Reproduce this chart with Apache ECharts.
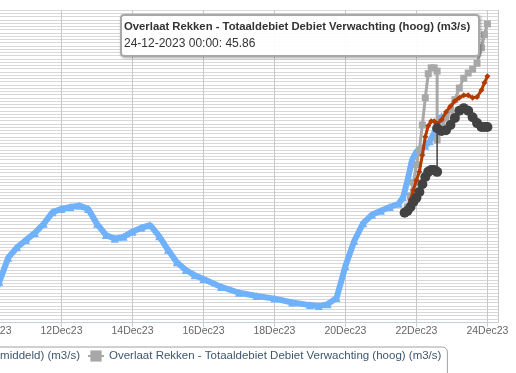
<!DOCTYPE html>
<html><head><meta charset="utf-8">
<script src="https://cdn.jsdelivr.net/npm/echarts@6/dist/echarts.min.js"></script>
<style>html,body{margin:0;padding:0;background:#fff;overflow:hidden}#c{width:516px;height:373px}</style>
</head><body><div id="c"></div>
<script>
// ---- data ----
const axisStart = '2023-12-10 00:00';
const axisEnd = '2023-12-24 07:30';
const tickDays = 2;
const yMin = 0, yMax = 48, yStep = 0.5;
const monthNames = ['Jan','Feb','Mar','Apr','May','Jun','Jul','Aug','Sep','Oct','Nov','Dec'];

const nameObserved = 'Overlaat Rekken - Totaaldebiet Debiet (m3/s)';
const nameHigh = 'Overlaat Rekken - Totaaldebiet Debiet Verwachting (hoog) (m3/s)';
const nameMid = 'Overlaat Rekken - Totaaldebiet Debiet Verwachting (middeld) (m3/s)';
const nameLow = 'Overlaat Rekken - Totaaldebiet Debiet Verwachting (laag) (m3/s)';

const observedTimes = ['2023-12-10 00:00','2023-12-10 06:00','2023-12-10 12:00','2023-12-10 18:00',
'2023-12-11 00:00','2023-12-11 06:00','2023-12-11 12:00','2023-12-11 18:00',
'2023-12-12 00:00','2023-12-12 06:00','2023-12-12 12:00','2023-12-12 18:00',
'2023-12-13 00:00','2023-12-13 06:00','2023-12-13 12:00','2023-12-13 18:00',
'2023-12-14 00:00','2023-12-14 06:00','2023-12-14 12:00','2023-12-14 18:00',
'2023-12-15 00:00','2023-12-15 06:00','2023-12-15 12:00','2023-12-15 18:00',
'2023-12-16 00:00','2023-12-16 12:00','2023-12-17 00:00','2023-12-17 12:00',
'2023-12-18 00:00','2023-12-18 12:00','2023-12-19 00:00','2023-12-19 06:00',
'2023-12-19 12:00','2023-12-19 18:00','2023-12-20 00:00','2023-12-20 06:00',
'2023-12-20 12:00','2023-12-20 18:00','2023-12-21 00:00','2023-12-21 06:00',
'2023-12-21 12:00','2023-12-21 15:00','2023-12-21 18:00','2023-12-21 21:00',
'2023-12-22 00:00','2023-12-22 03:00','2023-12-22 06:00','2023-12-22 09:00',
'2023-12-22 12:00','2023-12-22 15:00','2023-12-22 17:00'];
const observedValues = [3.0,6.2,9.9,11.5,
12.6,13.7,15.1,16.9,
17.4,17.7,17.9,17.4,
15.1,13.4,12.8,13.1,
13.9,14.5,14.9,13.2,
11.1,9.2,8.0,7.2,
6.6,5.4,4.5,4.0,
3.6,3.0,2.6,2.45,
2.75,3.7,8.6,12.5,
15.2,16.5,17.1,17.7,
18.2,19.2,21.8,24.9,
26.2,26.6,27.1,27.8,
29.1,30.8,31.7];

const forecastTimes = ['2023-12-21 16:00','2023-12-21 18:00','2023-12-21 20:00','2023-12-21 22:00',
'2023-12-22 00:00','2023-12-22 02:00','2023-12-22 04:00','2023-12-22 06:00',
'2023-12-22 08:00','2023-12-22 10:00','2023-12-22 12:00','2023-12-22 14:00',
'2023-12-22 14:00','2023-12-22 17:00','2023-12-22 20:00','2023-12-22 23:00',
'2023-12-23 02:00','2023-12-23 05:00','2023-12-23 08:00','2023-12-23 11:00',
'2023-12-23 14:00','2023-12-23 17:00','2023-12-23 20:00','2023-12-23 22:00',
'2023-12-24 00:00'];
const highValues = [16.9,17.7,19.4,21.5,24.2,26.5,30.3,34.5,38.2,39.1,39.1,38.6,
28.0,30.0,31.4,32.6,34.2,36.0,37.5,38.3,38.9,39.8,42.2,44.2,45.86];
const midValues = [16.8,17.5,18.8,20.3,21.8,23.1,25.7,28.5,30.2,30.9,30.9,30.5,
30.2,31.1,32.3,33.2,34.0,34.5,34.9,34.9,34.5,34.6,35.7,36.8,37.8];
const lowValues = [16.8,17.1,17.7,18.5,19.1,20.0,21.2,22.3,23.1,23.4,23.4,23.1,
29.8,29.4,29.5,30.3,31.4,32.5,32.9,32.5,31.5,30.6,30.0,30.0,30.0];

// ---- helpers ----
function ts(s){const [d,h]=s.split(' ');const [Y,M,D]=d.split('-').map(Number);const [hh,mm]=h.split(':').map(Number);return Date.UTC(Y,M-1,D,hh,mm);}
function pairs(times, vals){return times.map((t,i)=>[ts(t), vals[i]]);}
function pad(n){return (n<10?'0':'')+n;}
function fmtTip(ms){const d=new Date(ms);return pad(d.getUTCDate())+'-'+pad(d.getUTCMonth()+1)+'-'+d.getUTCFullYear()+' '+pad(d.getUTCHours())+':'+pad(d.getUTCMinutes());}
function fmtAxis(ms){const d=new Date(ms);return d.getUTCDate()+monthNames[d.getUTCMonth()]+String(d.getUTCFullYear()).slice(2);}

const FONT = '"Liberation Sans", Arial, sans-serif';
const legendFontSize = 11.5;
const legendGap = 7;
// measure text to place the legend so that the 'hoog' item starts at x~88 as in the cropped original
const cv = document.createElement('canvas').getContext('2d');
cv.font = legendFontSize + 'px "Liberation Sans"';
const midW = cv.measureText(nameMid).width;
const legendLeft = 86 - 5 - 16 - 5 - midW - legendGap;

const chart = echarts.init(document.getElementById('c'), null, {renderer:'canvas'});
const option = {
  animation:false,
  backgroundColor:'#ffffff',
  textStyle:{fontFamily:FONT},
  grid:{left:-9.5, right:17.5, top:10, bottom:51, containLabel:false, outerBoundsMode:'none'},
  xAxis:{
    type:'value', min:ts(axisStart), max:ts(axisEnd), interval:tickDays*86400000,
    axisLine:{show:true, lineStyle:{color:'#c0d0e0', width:1}},
    axisTick:{show:true, length:5, lineStyle:{color:'#c0d0e0'}},
    axisLabel:{formatter:fmtAxis, color:'#666666', fontSize:10.5, fontFamily:FONT, margin:4, showMaxLabel:false},
    splitLine:{show:true, lineStyle:{color:'#c8c8c8', width:1}}
  },
  yAxis:{
    type:'value', min:yMin, max:yMax, interval:yStep,
    axisLine:{show:false}, axisTick:{show:false}, axisLabel:{show:false},
    splitLine:{show:true, lineStyle:{color:'#d8d8d8', width:1}}
  },
  legend:{
    data:[nameMid, nameHigh],
    left:legendLeft, top:347, orient:'horizontal',
    itemGap:legendGap, itemWidth:16, itemHeight:14,
    padding:[3,6,30,5],
    borderColor:'#a0a0a0', borderWidth:1, borderRadius:5,
    textStyle:{color:'#3e576f', fontSize:legendFontSize, fontFamily:FONT}
  },
  tooltip:{
    trigger:'item', triggerOn:'none', alwaysShowContent:true, showDelay:0, transitionDuration:0,
    position:[120,14], confine:false,
    backgroundColor:'rgba(255,255,255,0.95)', borderColor:'#a8a8a8', borderWidth:2,
    padding:[2,8,3,2],
    extraCssText:'border-radius:4px;box-shadow:1px 1px 3px rgba(0,0,0,0.35);',
    textStyle:{fontFamily:FONT, color:'#333'},
    formatter:function(p){
      return '<div style="font-family:'+FONT.replace(/"/g,"'")+';line-height:17px;color:#333">'+
        '<div style="font-weight:bold;font-size:11.3px">'+p.seriesName+'</div>'+
        '<div style="font-size:12px">'+fmtTip(p.value[0])+': '+p.value[1].toFixed(2)+'</div></div>';
    }
  },
  series:[
    {name:nameObserved, type:'line', data:pairs(observedTimes, observedValues),
     symbol:'triangle', symbolSize:8, showAllSymbol:true,
     itemStyle:{color:'#70b1fb'}, lineStyle:{color:'#70b1fb', width:6}, z:2},
    {name:nameHigh, type:'line', data:pairs(forecastTimes, highValues),
     symbol:'rect', symbolSize:7, showAllSymbol:true,
     itemStyle:{color:'#a8a8a8'}, lineStyle:{color:'#a8a8a8', width:3}, z:3},
    {name:nameMid, type:'line', data:pairs(forecastTimes, midValues),
     symbol:'diamond', symbolSize:6, showAllSymbol:true,
     itemStyle:{color:'#b33a00'}, lineStyle:{color:'#b33a00', width:3}, z:4},
    {name:nameLow, type:'line', data:pairs(forecastTimes, lowValues),
     symbol:'circle', symbolSize:10, showAllSymbol:true,
     itemStyle:{color:'#424242'}, lineStyle:{color:'#424242', width:1.5}, z:5}
  ]
};
chart.setOption(option);
chart.dispatchAction({type:'showTip', seriesIndex:1, dataIndex:highValues.length-1});
</script></body></html>
